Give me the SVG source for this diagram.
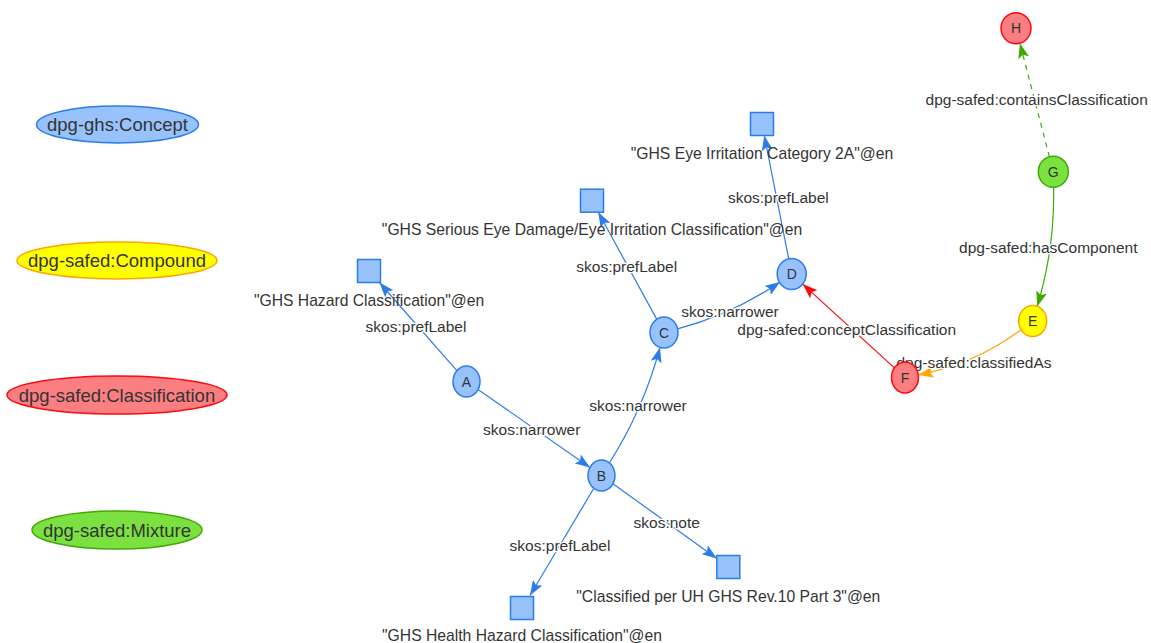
<svg xmlns="http://www.w3.org/2000/svg" width="1151" height="643" viewBox="0 0 1151 643">
<style>
text{font-family:"Liberation Sans",Arial,sans-serif;fill:#343434;text-anchor:middle}
.leg{font-size:18.5px}
.nl{font-size:14px}
.sl{font-size:15.7px}
.el{font-size:15.5px;stroke:#ffffff;stroke-width:2.5;paint-order:stroke;stroke-linejoin:round}
.blue{fill:#97C2FC;stroke:#2B7CE9;stroke-width:1.5}
.red{fill:#FB7E81;stroke:#FA0A10;stroke-width:1.5}
.yel{fill:#FFFF00;stroke:#FFA500;stroke-width:1.5}
.grn{fill:#7BE141;stroke:#41A906;stroke-width:1.5}
.e{fill:none;stroke-width:1.2}
.eb{stroke:#2B7CE9;marker-end:url(#ab)}
.er{stroke:#FA0A10;marker-end:url(#ar)}
.eo{stroke:#FFA500;marker-end:url(#ao)}
.eg{stroke:#41A906;marker-end:url(#ag)}
</style>
<defs>
<marker id="ab" viewBox="0 0 15 11" refX="15" refY="5.5" markerWidth="15" markerHeight="11" markerUnits="userSpaceOnUse" orient="auto"><path d="M0,0 L15,5.5 L0,11 L3,5.5 z" fill="#2B7CE9"/></marker>
<marker id="ar" viewBox="0 0 15 11" refX="15" refY="5.5" markerWidth="15" markerHeight="11" markerUnits="userSpaceOnUse" orient="auto"><path d="M0,0 L15,5.5 L0,11 L3,5.5 z" fill="#FA0A10"/></marker>
<marker id="ao" viewBox="0 0 15 11" refX="15" refY="5.5" markerWidth="15" markerHeight="11" markerUnits="userSpaceOnUse" orient="auto"><path d="M0,0 L15,5.5 L0,11 L3,5.5 z" fill="#FFA500"/></marker>
<marker id="ag" viewBox="0 0 15 11" refX="15" refY="5.5" markerWidth="15" markerHeight="11" markerUnits="userSpaceOnUse" orient="auto"><path d="M0,0 L15,5.5 L0,11 L3,5.5 z" fill="#41A906"/></marker>
</defs>
<rect width="1151" height="643" fill="#ffffff"/>

<g id="connectors">
<path class="e eb" d="M456.9,370.6 L379.4,282.5"/>
<path class="e eb" d="M478,389.5 L590,467.5"/>
<path class="e eb" d="M609.4,463 Q643.7,408.8 660,347.4"/>
<path class="e eb" d="M656.8,319.4 L598.3,212.2"/>
<path class="e eb" d="M677.6,328.9 Q732.9,314.2 780.1,281.9"/>
<path class="e eb" d="M788.7,258.9 L764.3,135.5"/>
<path class="e er" d="M894.4,367.9 L802.7,284.1"/>
<path class="e eo" d="M1021.4,329.5 Q975.3,363.9 918.3,374.9"/>
<path class="e eg" d="M1053.6,187.2 Q1054.9,248 1037.2,306.4"/>
<path class="e eg" stroke-dasharray="5,5" d="M1049.4,156.8 L1019.9,43.2"/>
<path class="e eb" d="M593.8,488.3 L530,595.5"/>
<path class="e eb" d="M612.9,483.7 L716.8,558.5"/>
<text class="el" x="416" y="332">skos:prefLabel</text>
<text class="el" x="531.7" y="434.5">skos:narrower</text>
<text class="el" x="638" y="410.5">skos:narrower</text>
<text class="el" x="626.7" y="272.2">skos:prefLabel</text>
<text class="el" x="730" y="316.5">skos:narrower</text>
<text class="el" x="778.3" y="203.2">skos:prefLabel</text>
<text class="el" x="846.7" y="334.8">dpg-safed:conceptClassification</text>
<text class="el" x="974" y="367.8">dpg-safed:classifiedAs</text>
<text class="el" x="1048.3" y="253.2">dpg-safed:hasComponent</text>
<text class="el" x="1036.7" y="104.8">dpg-safed:containsClassification</text>
<text class="el" x="560" y="550.5">skos:prefLabel</text>
<text class="el" x="666.7" y="528.2">skos:note</text>
</g>

<g id="legend-concept"><ellipse class="blue" cx="117.5" cy="124.5" rx="81" ry="18.5"/><text class="leg" x="117.5" y="131">dpg-ghs:Concept</text></g>
<g id="legend-compound"><ellipse class="yel" cx="117" cy="260.5" rx="100" ry="18.5"/><text class="leg" x="117" y="267">dpg-safed:Compound</text></g>
<g id="legend-classification"><ellipse class="red" cx="117" cy="395" rx="110" ry="19"/><text class="leg" x="117" y="401.5">dpg-safed:Classification</text></g>
<g id="legend-mixture"><ellipse class="grn" cx="117" cy="530" rx="85" ry="19"/><text class="leg" x="117" y="536.5">dpg-safed:Mixture</text></g>

<g id="node-A"><ellipse class="blue" cx="466.5" cy="381.5" rx="13.5" ry="15.5"/><text class="nl" x="466.5" y="386.5">A</text></g>
<g id="node-B"><ellipse class="blue" cx="601.5" cy="475.5" rx="13.5" ry="15.5"/><text class="nl" x="601.5" y="480.5">B</text></g>
<g id="node-C"><ellipse class="blue" cx="664" cy="332.5" rx="14" ry="15.5"/><text class="nl" x="664" y="337.5">C</text></g>
<g id="node-D"><ellipse class="blue" cx="791.7" cy="274" rx="14.5" ry="15.5"/><text class="nl" x="791.7" y="279">D</text></g>
<g id="node-E"><ellipse class="yel" cx="1032.7" cy="321" rx="14" ry="15.5"/><text class="nl" x="1032.7" y="326">E</text></g>
<g id="node-F"><ellipse class="red" cx="905" cy="377.5" rx="13.5" ry="15.5"/><text class="nl" x="905" y="382.5">F</text></g>
<g id="node-G"><ellipse class="grn" cx="1053.3" cy="171.7" rx="15" ry="15.5"/><text class="nl" x="1053.3" y="176.7">G</text></g>
<g id="node-H"><ellipse class="red" cx="1016" cy="28.3" rx="15" ry="15.5"/><text class="nl" x="1016" y="33.3">H</text></g>

<g id="lit-hazard"><rect class="blue" x="357.5" y="259.5" width="23" height="23"/><text class="sl" x="369" y="305.5">"GHS Hazard Classification"@en</text></g>
<g id="lit-eye-damage"><rect class="blue" x="580.5" y="189.2" width="23" height="23"/><text class="sl" x="592" y="235.3">"GHS Serious Eye Damage/Eye Irritation Classification"@en</text></g>
<g id="lit-eye-irritation"><rect class="blue" x="750.5" y="112.5" width="23" height="23"/><text class="sl" x="762" y="158.5">"GHS Eye Irritation Category 2A"@en</text></g>
<g id="lit-health-hazard"><rect class="blue" x="510.5" y="596.5" width="23" height="23"/><text class="sl" x="522" y="641">"GHS Health Hazard Classification"@en</text></g>
<g id="lit-note"><rect class="blue" x="716.8" y="555.5" width="23" height="23"/><text class="sl" x="728.3" y="601.5">"Classified per UH GHS Rev.10 Part 3"@en</text></g>
</svg>
